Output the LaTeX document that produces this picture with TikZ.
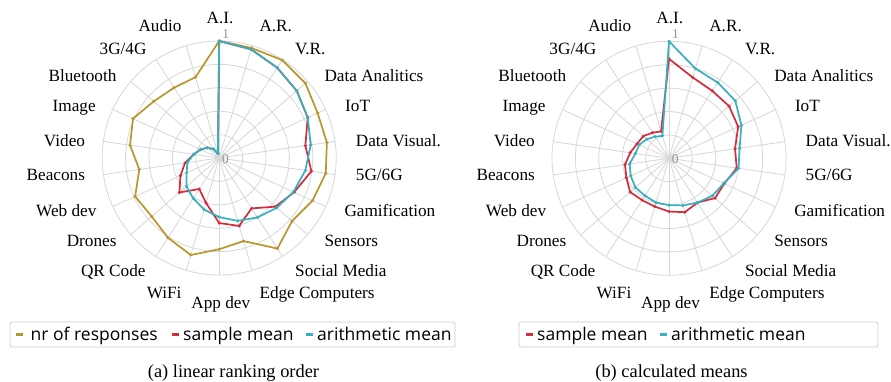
\documentclass[tikz,border=0pt]{standalone}
\usepackage{fontspec}
\setmainfont{Liberation Serif}
\newfontfamily\legfont{Open Sans}
\definecolor{cgold}{RGB}{186,150,44}
\definecolor{cred}{RGB}{212,44,58}
\definecolor{ccyan}{RGB}{56,176,190}
\definecolor{cgrid}{RGB}{215,215,215}
\definecolor{ctick}{RGB}{150,150,150}
\definecolor{cframe}{RGB}{205,205,205}
\tikzset{
  gridline/.style={draw=cgrid, line width=0.8pt},
  seriesline/.style={line width=1.7pt, line join=round},
  axlabel/.style={font=\fontsize{17.2}{20}\selectfont, inner sep=0pt},
  ticklabel/.style={font=\fontsize{13.5}{16}\selectfont, text=ctick, inner sep=0pt},
  legtext/.style={font=\legfont\fontsize{17.5}{20}\selectfont, inner sep=0pt, anchor=base west},
  legdash/.style={line width=2.6pt},
  legframe/.style={draw=cframe, line width=0.8pt, rounded corners=1.5pt},
  captiontext/.style={font=\fontsize{18.4}{22}\selectfont, inner sep=0pt, anchor=base},
}
\def\RR{117}
\newcommand\radargrid{%
  \foreach \r in {1,...,5} \draw[gridline] (0,0) circle ({\r*\RR/5});
  \foreach \i in {0,...,21} \draw[gridline] (0,0) -- ({90-\i*360/22}:\RR);
}
\newcommand\radarseries[3]{%
  \draw[seriesline, draw=#1] (90:{#2*\RR}) \foreach \v [count=\i] in {#3} { -- ({90-\i*360/22}:{\v*\RR}) } -- cycle;
  \fill[#1] (90:{#2*\RR}) circle (1.7);
  \foreach \v [count=\i] in {#3} \fill[#1] ({90-\i*360/22}:{\v*\RR}) circle (1.7);
}
\newcommand\radarlabels[1]{%
  \foreach \x/\y/\a/\t [count=\k] in {
    0.8/135/base/{A.I.},
    40.1/126.5/base west/{A.R.},
    75.8/103.5/base west/{V.R.},
    105.1/77/base west/{Data Analitics},
    125.8/47/base west/{IoT},
    136.5/11.5/base west/{Data Visual.},
    136.5/-22.5/base west/{5G/6G},
    125.1/-58.5/base west/{Gamification},
    105.1/-88/base west/{Sensors},
    75.8/-118/base west/{Social Media},
    40.1/-140/base west/{Edge Computers},
    1.6/-150/base/{App dev},
    -37.5/-140/base east/{WiFi},
    -73.5/-118/base east/{QR Code},
    -102.5/-88/base east/{Drones},
    -122.6/-58.5/base east/{Web dev},
    -134/-22.5/base east/{Beacons},
    -134/11.5/base east/{Video},
    -123.3/47/base east/{Image},
    -102.6/77/base east/{Bluetooth},
    -72.5/103.5/base east/{3G/4G},
    -37.5/126.5/base east/{Audio}}
    \node[axlabel, anchor=\a] (#1lab\k) at (\x,\y) {\t};
  \node[ticklabel] (#1zero) at (6.3,-0.7) {0};
  \node[ticklabel] (#1one) at (6.5,124) {1};
}
\begin{document}
\begin{tikzpicture}[x=1pt,y=1pt]
\useasboundingbox (0,0) rectangle (891,-381);
\fill[white] (0,0) rectangle (891,-381);

% ---------- chart (a)
\begin{scope}[shift={(219.2,-158)}]
  \radargrid
  \radarseries{cgold}{1.0}{0.98,0.995,0.975,0.925,0.93,0.92,0.877,0.824,0.92,0.74,0.78,0.864,0.81,0.763,0.79,0.69,0.77,0.81,0.74,0.714,0.72}
  \radarseries{cred}{1.0}{0.968,0.917,0.877,0.832,0.744,0.796,0.704,0.635,0.512,0.605,0.556,0.40,0.315,0.45,0.364,0.295,0.22,0.175,0.134,0.09,0.04}
  \radarseries{ccyan}{1.0}{0.968,0.917,0.877,0.832,0.79,0.744,0.698,0.65,0.604,0.56,0.505,0.459,0.41,0.37,0.306,0.275,0.22,0.175,0.134,0.09,0.04}
  \radarlabels{a}
\end{scope}

% ---------- chart (b)
\begin{scope}[shift={(669,-158.3)}]
  \radargrid
  \radarseries{cred}{0.85}{0.72,0.685,0.68,0.65,0.57,0.585,0.52,0.52,0.45,0.48,0.455,0.43,0.425,0.44,0.40,0.38,0.335,0.30,0.29,0.26,0.24}
  \radarseries{ccyan}{1.0}{0.80,0.77,0.75,0.68,0.61,0.60,0.515,0.49,0.45,0.42,0.40,0.395,0.38,0.38,0.36,0.34,0.29,0.28,0.25,0.22,0.20}
  \radarlabels{b}
\end{scope}

% ---------- legend (a)
\draw[legframe] (10,-322) rectangle (455,-347);
\coordinate (ga1) at (16,-334.5); \coordinate (ga2) at (23,-334.5);
\draw[legdash, cgold] (ga1) -- (ga2);
\node[legtext] (lega1) at (30.5,-340.5) {nr of responses};
\coordinate (ra1) at (172,-334.5); \coordinate (ra2) at (179,-334.5);
\draw[legdash, cred] (ra1) -- (ra2);
\node[legtext] (lega2) at (183,-340.5) {sample mean};
\coordinate (ca1) at (306,-334.5); \coordinate (ca2) at (313,-334.5);
\draw[legdash, ccyan] (ca1) -- (ca2);
\node[legtext] (lega3) at (317,-340.5) {arithmetic mean};

% ---------- legend (b)
\draw[legframe] (519,-322) rectangle (878,-347);
\coordinate (rb1) at (526,-334.5); \coordinate (rb2) at (533,-334.5);
\draw[legdash, cred] (rb1) -- (rb2);
\node[legtext] (legb1) at (537,-340.5) {sample mean};
\coordinate (cb1) at (660,-334.5); \coordinate (cb2) at (667,-334.5);
\draw[legdash, ccyan] (cb1) -- (cb2);
\node[legtext] (legb2) at (671,-340.5) {arithmetic mean};

% ---------- captions
\node[captiontext] (capa) at (233.5,-377) {(a) linear ranking order};
\node[captiontext] (capb) at (671.5,-377) {(b) calculated means};
\end{tikzpicture}
\end{document}
